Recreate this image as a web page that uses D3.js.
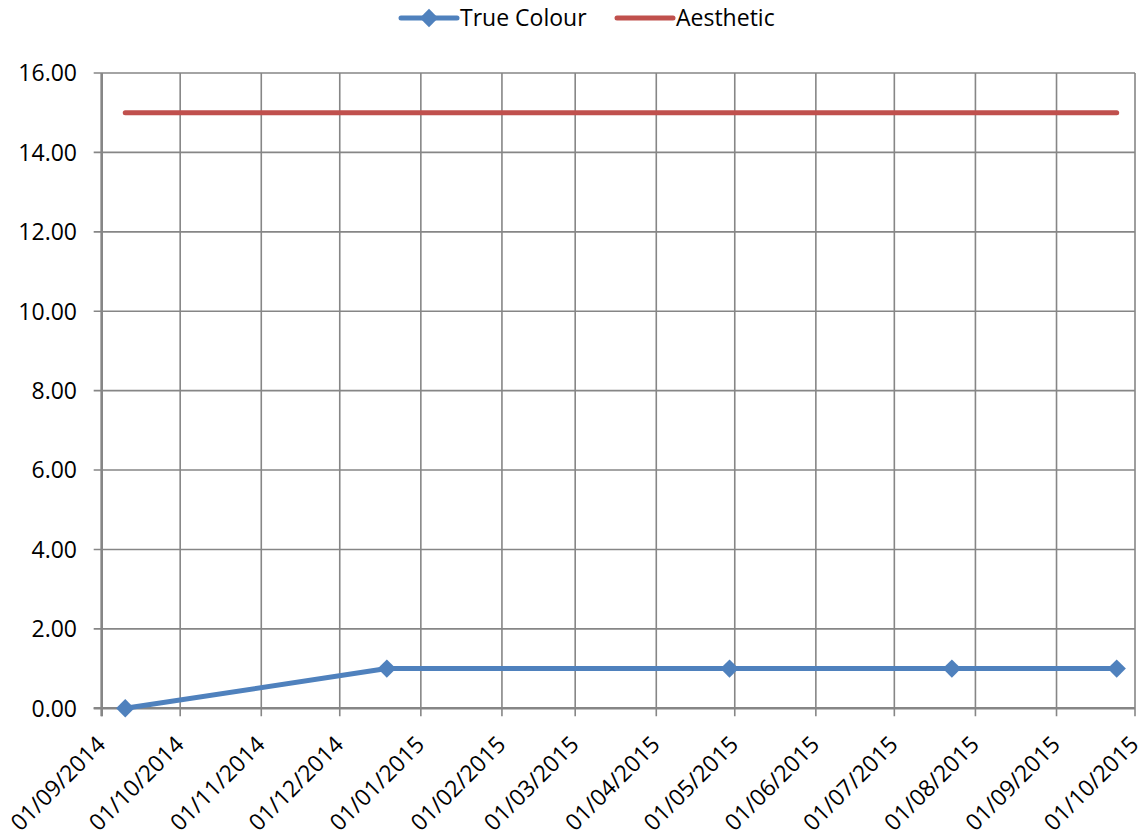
<!DOCTYPE html>
<html>
<head>
<meta charset="utf-8">
<script src="https://cdn.jsdelivr.net/npm/d3@7"></script>
<style>
  html, body { margin: 0; padding: 0; background: #fff; }
  svg { display: block; }
  text { font-family: "Open Sans", "Liberation Sans", sans-serif; fill: #000; }
</style>
</head>
<body>
<svg id="chart" width="1145" height="839"></svg>
<script>
// Sample dates and readings
const sampleDates = ["2014-09-10", "2014-12-19", "2015-04-29", "2015-07-23", "2015-09-24"];
const trueColour = [0, 1, 1, 1, 1];
const aesthetic = [15, 15, 15, 15, 15];

// Axis settings
const xStart = "2014-09-01";
const xEnd = "2015-10-01";
const yTicks = [0, 2, 4, 6, 8, 10, 12, 14, 16];

const seriesNames = ["True Colour", "Aesthetic"];
const seriesColors = ["#4F81BD", "#C0504D"];

const plot = { left: 101.7, right: 1135, top: 73, bottom: 708.3 };
const parse = d3.utcParse("%Y-%m-%d");
const fmt = d3.utcFormat("%d/%m/%Y");
const fontSize = 23;

const svg = d3.select("#chart");

const x = d3.scaleUtc()
  .domain([parse(xStart), parse(xEnd)])
  .range([plot.left, plot.right]);
const y = d3.scaleLinear()
  .domain([0, 16])
  .range([plot.bottom, plot.top]);

const monthTicks = d3.utcMonth.range(parse(xStart), d3.utcDay.offset(parse(xEnd), 1));

const gridColor = "#868686";

// Horizontal gridlines (extend left as tick marks)
svg.append("g")
  .selectAll("line")
  .data(yTicks)
  .join("line")
  .attr("x1", plot.left - 8)
  .attr("x2", plot.right)
  .attr("y1", d => y(d))
  .attr("y2", d => y(d))
  .attr("stroke", gridColor)
  .attr("stroke-width", 1.6);

// Vertical gridlines (extend below as tick marks)
svg.append("g")
  .selectAll("line")
  .data(monthTicks)
  .join("line")
  .attr("x1", d => x(d))
  .attr("x2", d => x(d))
  .attr("y1", plot.top)
  .attr("y2", plot.bottom + 8)
  .attr("stroke", gridColor)
  .attr("stroke-width", 1.6);

// Axis lines
svg.append("line")
  .attr("x1", plot.left).attr("x2", plot.left)
  .attr("y1", plot.top).attr("y2", plot.bottom + 8)
  .attr("stroke", gridColor).attr("stroke-width", 2.6);
svg.append("line")
  .attr("x1", plot.left - 8).attr("x2", plot.right)
  .attr("y1", plot.bottom).attr("y2", plot.bottom)
  .attr("stroke", gridColor).attr("stroke-width", 2.6);

// Y tick labels
svg.append("g")
  .selectAll("text")
  .data(yTicks)
  .join("text")
  .attr("x", 77)
  .attr("y", d => y(d))
  .attr("dy", "0.36em")
  .attr("text-anchor", "end")
  .attr("font-size", fontSize)
  .text(d => d.toFixed(2));

// X tick labels, rotated
svg.append("g")
  .selectAll("text")
  .data(monthTicks)
  .join("text")
  .attr("text-anchor", "end")
  .attr("font-size", fontSize)
  .attr("transform", d => `translate(${x(d) + 5},${746}) rotate(-45)`)
  .text(d => fmt(d));

// Series
const dates = sampleDates.map(parse);
const line = d3.line()
  .x(d => x(d[0]))
  .y(d => y(d[1]));

const aesData = dates.map((d, i) => [d, aesthetic[i]]);
svg.append("path")
  .datum(aesData)
  .attr("d", line)
  .attr("fill", "none")
  .attr("stroke", seriesColors[1])
  .attr("stroke-width", 5)
  .attr("stroke-linecap", "round")
  .attr("stroke-linejoin", "round");

const tcData = dates.map((d, i) => [d, trueColour[i]]);
svg.append("path")
  .datum(tcData)
  .attr("d", line)
  .attr("fill", "none")
  .attr("stroke", seriesColors[0])
  .attr("stroke-width", 5)
  .attr("stroke-linecap", "round")
  .attr("stroke-linejoin", "round");

const diamond = d3.symbol().type(d3.symbolDiamond2).size(215);
svg.append("g")
  .selectAll("path")
  .data(tcData)
  .join("path")
  .attr("d", diamond)
  .attr("transform", d => `translate(${x(d[0])},${y(d[1])})`)
  .attr("fill", seriesColors[0]);

// Legend
const legend = svg.append("g");
const legendItems = [
  { name: seriesNames[0], color: seriesColors[0], x1: 401, x2: 457, tx: 460, marker: true },
  { name: seriesNames[1], color: seriesColors[1], x1: 617, x2: 673, tx: 676, marker: false }
];
const ly = 18;
legendItems.forEach(it => {
  legend.append("line")
    .attr("x1", it.x1).attr("x2", it.x2)
    .attr("y1", ly).attr("y2", ly)
    .attr("stroke", it.color).attr("stroke-width", 5)
    .attr("stroke-linecap", "round");
  if (it.marker) {
    legend.append("path")
      .attr("d", diamond)
      .attr("transform", `translate(${(it.x1 + it.x2) / 2},${ly})`)
      .attr("fill", it.color);
  }
  legend.append("text")
    .attr("x", it.tx).attr("y", ly)
    .attr("dy", "0.36em")
    .attr("font-size", fontSize)
    .text(it.name);
});
</script>
</body>
</html>
